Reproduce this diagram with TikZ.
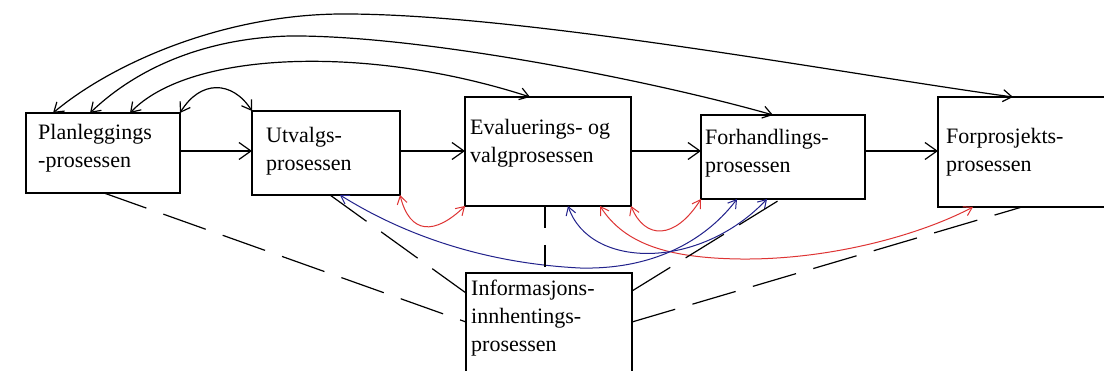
\documentclass[tikz,border=0pt]{standalone}
\usepackage{fontspec}
\setmainfont{Liberation Serif}
\usetikzlibrary{arrows.meta}
\definecolor{linkred}{RGB}{222,52,52}
\definecolor{linkblue}{RGB}{34,34,140}
\begin{document}
\begin{tikzpicture}[x=1pt,y=-1pt,
  box/.style={draw, line width=1.3pt, anchor=north west, inner sep=0pt, outer sep=0pt},
  txt/.style={anchor=base west, align=left, inner sep=0pt, font=\fontsize{22}{28}\selectfont},
  flow/.style={-{Straight Barb[length=12pt,width=17pt]}, line width=1.2pt},
  loop/.style={{Straight Barb[length=9pt,width=12pt]}-{Straight Barb[length=9pt,width=12pt]}, line width=1.2pt},
  redlink/.style={{Straight Barb[length=8pt,width=10pt]}-{Straight Barb[length=8pt,width=10pt]}, draw=linkred, line width=1pt},
  bluelink/.style={{Straight Barb[length=8pt,width=10pt]}-{Straight Barb[length=8pt,width=10pt]}, draw=linkblue, line width=1pt},
  tie/.style={line width=1.2pt, dash pattern=on 45pt off 18pt},
  vtie/.style={line width=1.2pt, dash pattern=on 22pt off 17pt}]
\useasboundingbox (0,0) rectangle (1104,371);
\clip (0,0) rectangle (1104,371);
\fill[white] (0,0) rectangle (1104,371);

% process boxes
\node[box, minimum width=154pt, minimum height=80pt]  (b1) at (26,113) {};
\node[box, minimum width=148pt, minimum height=84pt]  (b2) at (252,111) {};
\node[box, minimum width=166pt, minimum height=109pt] (b3) at (465,97) {};
\node[box, minimum width=164pt, minimum height=84pt]  (b4) at (701,115) {};
\node[box, minimum width=190pt, minimum height=110pt] (b5) at (938,97) {};
\node[box, minimum width=166pt, minimum height=120pt] (b6) at (466,273) {};

% box labels (base anchor sits on the last line)
\node[txt] (t1) at ([xshift=12pt,yshift=-55pt]b1.north west) {Planleggings\\-prosessen};
\node[txt] (t2) at ([xshift=14pt,yshift=-60pt]b2.north west) {Utvalgs-\\prosessen};
\node[txt] (t3) at ([xshift=5pt,yshift=-66pt]b3.north west) {Evaluerings- og\\valgprosessen};
\node[txt] (t4) at ([xshift=4pt,yshift=-58pt]b4.north west) {Forhandlings-\\prosessen};
\node[txt] (t5) at ([xshift=8pt,yshift=-75pt]b5.north west) {Forprosjekts-\\prosessen};
\node[txt] (t6) at ([xshift=5pt,yshift=-79pt]b6.north west) {Informasjons-\\innhentings-\\prosessen};

% main sequence
\coordinate (row) at (0,151);
\draw[flow] (b1.east |- row) -- (b2.west |- row);
\draw[flow] (b2.east |- row) -- (b3.west |- row);
\draw[flow] (b3.east |- row) -- (b4.west |- row);
\draw[flow] (b4.east |- row) -- (b5.west |- row);

% feedback arcs over the top
\draw[loop] ([xshift=27pt]b1.north west) .. controls (110,65) and (220,15) .. (340,14)
            .. controls (520,13) and (850,75) .. ([xshift=75pt]b5.north west);
\draw[loop] ([xshift=64pt]b1.north west) .. controls (140,65) and (210,38) .. (290,36)
            .. controls (420,35) and (650,80) .. ([xshift=72pt]b4.north west);
\draw[loop] ([xshift=104pt]b1.north west) .. controls (190,50) and (370,45) .. ([xshift=65pt]b3.north west);
\draw[loop] (b1.north east) .. controls (200,80) and (232,80) .. (b2.north west);

% links below the boxes
\draw[redlink] (b2.south east) .. controls (410,235) and (435,235) .. (b3.south west);
\draw[redlink] (b3.south east) .. controls (645,240) and (675,240) .. (b4.south west);
\draw[redlink] ([xshift=135pt]b3.south west) .. controls (625,245) and (670,258) .. (740,259)
               .. controls (830,260) and (920,235) .. ([xshift=35pt]b5.south west);
\draw[bluelink] ([xshift=88pt]b2.south west) .. controls (380,220) and (460,262) .. (580,268)
                .. controls (660,270) and (710,235) .. ([xshift=36pt]b4.south west);
\draw[bluelink] ([xshift=103pt]b3.south west) .. controls (590,270) and (700,270) .. ([xshift=66pt]b4.south west);

% information gathering ties
\draw[tie] ([xshift=78pt]b1.south west) -- ([yshift=-49pt]b6.north west);
\draw[tie] ([xshift=78pt]b2.south west) -- ([yshift=-20pt]b6.north west);
\draw[tie] ([yshift=-18pt]b6.north east) -- ([xshift=80pt]b4.south west);
\draw[tie] ([yshift=-49pt]b6.north east) -- ([xshift=84pt]b5.south west);
\draw[vtie] ([xshift=80pt]b3.south west) -- ([xshift=79pt]b6.north west);
\end{tikzpicture}
\end{document}
